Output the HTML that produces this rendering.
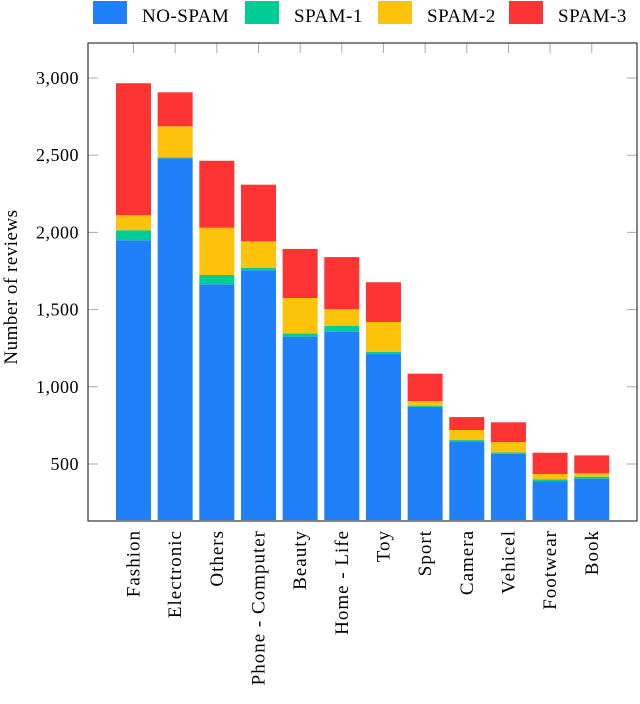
<!DOCTYPE html>
<html><head><meta charset="utf-8"><style>
body{margin:0;background:#fff;}
svg text{font-family:"Liberation Serif",serif;fill:#000;}
</style></head><body>
<svg id="chart" width="640" height="699" xmlns="http://www.w3.org/2000/svg">
<g id="legend"></g>
<g id="bars"></g>
<g id="axes"></g>
<text transform="translate(17,287) rotate(-90)" text-anchor="middle" font-size="19" letter-spacing="0.5">Number of reviews</text>
</svg>
<script>
const categories=["Fashion","Electronic","Others","Phone - Computer","Beauty","Home - Life","Toy","Sport","Camera","Vehicel","Footwear","Book"];
const noSpam=[1949,2480,1664,1755,1325,1357,1212,870,647,566,387,405];
const spam1=[65,6,60,16,21,37,15,8,8,9,13,13];
const spam2=[97,201,306,171,229,108,193,30,65,67,35,22];
const spam3=[855,220,434,367,318,338,257,177,84,128,138,116];
const seriesNames=["NO-SPAM","SPAM-1","SPAM-2","SPAM-3"];
const yTicks=[500,1000,1500,2000,2500,3000];
const yTickLabels=["500","1,000","1,500","2,000","2,500","3,000"];
const colors=["#2080fa","#00cc96","#fdc30b","#fe3333"];
const NS="http://www.w3.org/2000/svg";
const L=88,R=637,T=43,B=521,yMin=137;
function y(v){return 78+(3000-v)*0.1544;}
function xc(i){return 133.5+i*41.66;}
function mk(tag,attrs,parent){const e=document.createElementNS(NS,tag);for(const k in attrs)e.setAttribute(k,attrs[k]);parent.appendChild(e);return e;}
const bars=document.getElementById('bars'),axes=document.getElementById('axes'),legend=document.getElementById('legend');
const all=[noSpam,spam1,spam2,spam3];
categories.forEach((c,i)=>{let base=0;
 all.forEach((s,k)=>{const v0=Math.max(base,yMin),v1=base+s[i];base=v1;if(v1<=v0)return;
  const r=mk('rect',{x:xc(i)-17.5,y:y(v1),width:35,height:y(v0)-y(v1),fill:colors[k]},bars);
  
  });
 const t=mk('line',{x1:xc(i),x2:xc(i),y1:T,y2:T+10,stroke:'#aaa','stroke-width':1},axes);
 
 const lb=mk('text',{transform:`translate(${xc(i)+6},530) rotate(-90)`,'text-anchor':'end','font-size':19,'letter-spacing':1},axes);
 lb.textContent=c;
});
yTicks.forEach((v,i)=>{
 const a=mk('line',{x1:L,x2:L+10,y1:y(v),y2:y(v),stroke:'#aaa'},axes);
 const b=mk('line',{x1:R-10,x2:R,y1:y(v),y2:y(v),stroke:'#aaa'},axes);
 const t=mk('text',{x:79,y:y(v)+6,'text-anchor':'end','font-size':18,'letter-spacing':0.5},axes);t.textContent=yTickLabels[i];
 
});
const fr=mk('rect',{x:L,y:T,width:R-L,height:B-T,fill:'none',stroke:'#333','stroke-width':1.2},axes);

const lx=[93,245,378,509];
seriesNames.forEach((n,k)=>{
 const g=mk('g',{},legend);
 mk('rect',{x:lx[k],y:1,width:34,height:23,fill:colors[k]},g);
 const t=mk('text',{x:lx[k]+49,y:22,'font-size':19,'letter-spacing':0.5},g);t.textContent=n;
});
</script>
</body></html>
